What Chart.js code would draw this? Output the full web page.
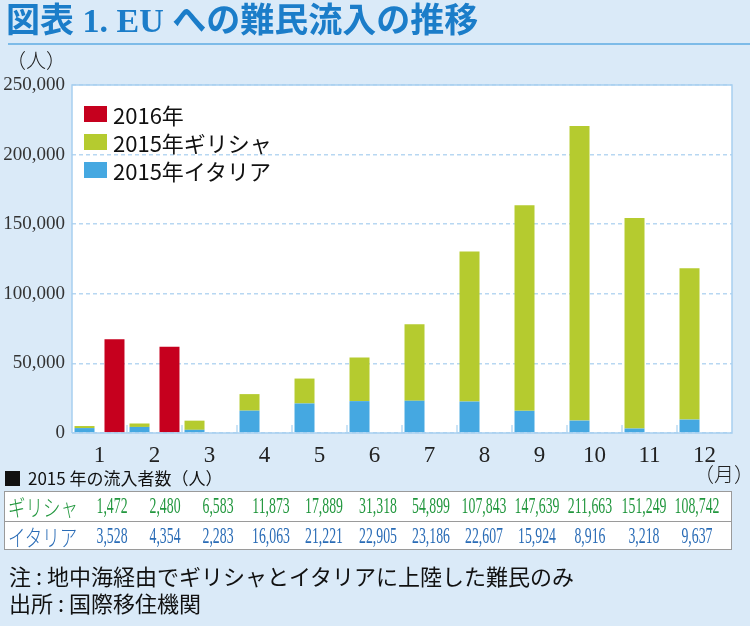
<!DOCTYPE html>
<html lang="ja">
<head>
<meta charset="utf-8">
<script src="https://cdn.jsdelivr.net/npm/chart.js@4.4.0/dist/chart.umd.min.js"></script>
<style>
  html, body { margin: 0; padding: 0; }
  body { width: 750px; height: 626px; background: #daeaf8; position: relative; overflow: hidden;
         font-family: "Noto Sans CJK JP", "Noto Sans", sans-serif; }
  #cv { position: absolute; left: 0; top: 0; }
  .abs { position: absolute; white-space: nowrap; }
  #title { left: 6px; top: 1px; font-size: 34px; font-weight: 700; color: #1b7dc9;
           font-family: "Liberation Serif", "Noto Sans CJK JP", serif; line-height: 40px; }
  #rule { left: 8px; top: 43px; width: 742px; height: 2px; background: #7dbbe8; }
  #unitY { left: 6px; top: 47px; font-size: 20px; color: #222; line-height: 26px; font-weight: 300; }
  #unitX { left: 694px; top: 461px; font-size: 20px; color: #222; line-height: 26px; font-weight: 300; }
  #legend { left: 84px; top: 100px; }
  .lg { display: flex; align-items: center; height: 28px; font-size: 22px; color: #111; }
  .lg i { display: inline-block; width: 23px; height: 16px; margin-right: 6px; }
  #thead { left: 5px; top: 467px; font-size: 17px; color: #111; line-height: 22px; display: flex; align-items: center; }
  #thead i { display: inline-block; width: 15px; height: 15px; background: #111; margin-right: 8px; }
  #table { left: 4px; top: 491px; width: 726px; height: 57px; background: #fff; border: 1.5px solid #9a9a9a; }
  .row { position: absolute; left: 0; width: 726px; height: 28px; }
  .row.r2 { top: 29px; border-top: 1.5px solid #9a9a9a; }
  .row.r1 { top: 0; }
  .num { position: absolute; top: 0; height: 28px; line-height: 28px; white-space: nowrap;
         font-family: "Liberation Serif", serif; font-size: 23px;
         transform: translateX(-50%) scaleX(0.6); }
  .lab { position: absolute; left: 3px; top: 0; height: 28px; line-height: 28px; }
  .lab span { display: inline-block; transform: scaleX(0.76); transform-origin: left center; font-size: 23px; font-weight: 300; }
  .g { color: #22973e; }
  .b { color: #2a6cb6; }
  #notes { left: 9px; top: 562px; font-size: 22px; color: #111; line-height: 27px; }
</style>
</head>
<body>
<canvas id="cv" width="750" height="626"></canvas>
<div class="abs" id="title">図表 1. EU への難民流入の推移</div>
<div class="abs" id="rule"></div>
<div class="abs" id="unitY">（人）</div>
<div class="abs" id="unitX">（月）</div>
<div class="abs" id="legend"></div>
<div class="abs" id="thead"><i></i>2015 年の流入者数（人）</div>
<div class="abs" id="table"></div>
<div class="abs" id="notes">注 : 地中海経由でギリシャとイタリアに上陸した難民のみ<br>出所 : 国際移住機関</div>
<script>
// ---- data ----
const months = ['1','2','3','4','5','6','7','8','9','10','11','12'];
const greece2015 = [1472, 2480, 6583, 11873, 17889, 31318, 54899, 107843, 147639, 211663, 151249, 108742];
const italy2015  = [3528, 4354, 2283, 16063, 21221, 22905, 23186, 22607, 15924, 8916, 3218, 9637];
const arrivals2016 = [67300, 62000, null, null, null, null, null, null, null, null, null, null];
const seriesNames = ['2015年イタリア', '2015年ギリシャ', '2016年'];
const rowNames = ['ギリシャ', 'イタリア'];
const yMax = 250000;
const yStep = 50000;

const colors = { italy: '#45a8e1', greece: '#b5cb2f', y2016: '#c6001e' };

const fmt = v => v.toLocaleString('en-US');

// ---- plugin: white plot area, border, inner ticks ----
const plotDeco = {
  id: 'plotDeco',
  beforeDraw(chart) {
    const { ctx, chartArea: a } = chart;
    ctx.save();
    ctx.fillStyle = '#ffffff';
    ctx.fillRect(a.left, a.top, a.right - a.left, a.bottom - a.top);
    ctx.restore();
  },
  afterDatasetsDraw(chart) {
    const { ctx, chartArea: a, scales } = chart;
    const xs = scales.x;
    ctx.save();
    ctx.strokeStyle = '#b9daf3';
    ctx.lineWidth = 1.5;
    for (let i = 1; i < months.length; i++) {
      const xb = (xs.getPixelForValue(i - 1) + xs.getPixelForValue(i)) / 2;
      ctx.beginPath();
      ctx.moveTo(xb, a.bottom);
      ctx.lineTo(xb, a.bottom - 8);
      ctx.stroke();
    }
    ctx.strokeStyle = '#a8cff0';
    ctx.lineWidth = 1.5;
    ctx.beginPath();
    ctx.moveTo(a.left, a.bottom);
    ctx.lineTo(a.left, a.top);
    ctx.lineTo(a.right, a.top);
    ctx.lineTo(a.right, a.bottom);
    ctx.lineTo(a.left, a.bottom);
    ctx.stroke();
    ctx.restore();
  }
};

const datasets = [
  { label: seriesNames[0], data: italy2015, backgroundColor: colors.italy, stack: 's2015' },
  { label: seriesNames[1], data: greece2015, backgroundColor: colors.greece, stack: 's2015' },
  { label: seriesNames[2], data: arrivals2016, backgroundColor: colors.y2016, stack: 's2016' }
];

const chart = new Chart(document.getElementById('cv'), {
  type: 'bar',
  data: { labels: months, datasets },
  options: {
    responsive: false,
    animation: false,
    layout: { padding: { top: 85, left: 0, right: 18, bottom: 163 } },
    datasets: { bar: { categoryPercentage: 1.09, barPercentage: 0.667, borderWidth: 0 } },
    plugins: { legend: { display: false }, tooltip: { enabled: false } },
    scales: {
      x: {
        stacked: true,
        grid: { display: false, drawTicks: false },
        border: { display: false },
        ticks: { color: '#222', padding: 9, font: { family: 'Liberation Serif', size: 23 }, maxRotation: 0 },
        afterFit(s) { s.height = 30; }
      },
      y: {
        stacked: true,
        min: 0, max: yMax,
        grid: { color: '#b7d7f2', lineWidth: 1.5, drawTicks: false },
        border: { display: false, dash: [4, 3] },
        ticks: { stepSize: yStep, color: '#333', padding: 7,
                 font: { family: 'Liberation Serif', size: 19 },
                 callback: v => fmt(v) },
        afterFit(s) { s.width = 72; }
      }
    }
  },
  plugins: [plotDeco]
});

// ---- HTML legend from datasets (reverse order) ----
const lg = document.getElementById('legend');
datasets.slice().reverse().forEach(ds => {
  const d = document.createElement('div');
  d.className = 'lg';
  d.innerHTML = '<i style="background:' + ds.backgroundColor + '"></i>' + ds.label;
  lg.appendChild(d);
});

// ---- data table ----
const table = document.getElementById('table');
const rows = [ { name: rowNames[0], vals: greece2015, cls: 'g' }, { name: rowNames[1], vals: italy2015, cls: 'b' } ];
const firstCenter = 106.5, colW = 53.2;
rows.forEach((r, ri) => {
  const row = document.createElement('div');
  row.className = 'row ' + (ri === 0 ? 'r1' : 'r2');
  let html = '<div class="lab ' + r.cls + '"><span>' + r.name + '</span></div>';
  r.vals.forEach((v, i) => {
    html += '<div class="num ' + r.cls + '" style="left:' + (firstCenter + i * colW) + 'px">' + fmt(v) + '</div>';
  });
  row.innerHTML = html;
  table.appendChild(row);
});
</script>
</body>
</html>
